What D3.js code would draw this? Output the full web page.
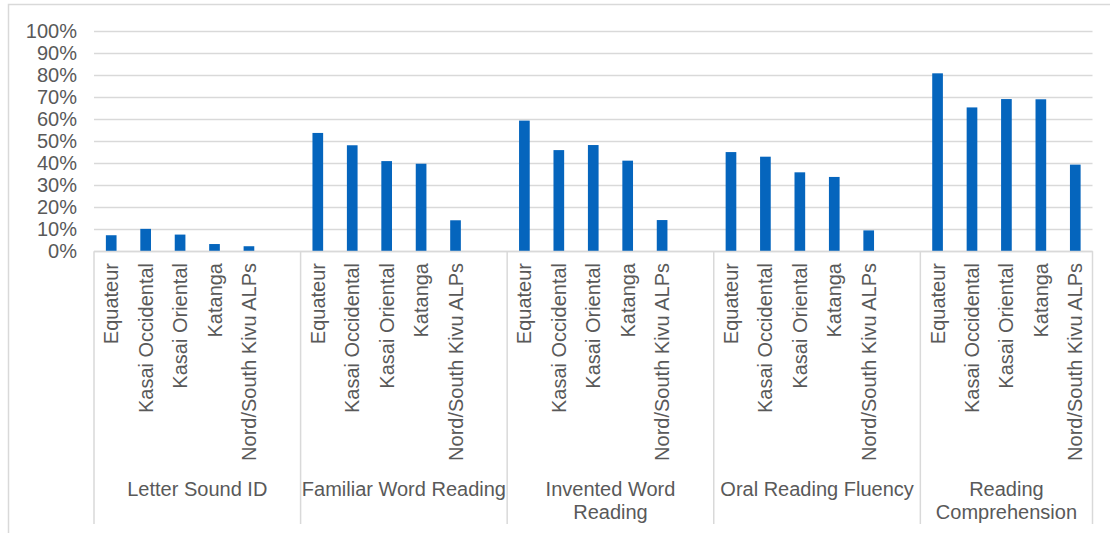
<!DOCTYPE html>
<html>
<head>
<meta charset="utf-8">
<script src="https://cdn.jsdelivr.net/npm/d3@7"></script>
<style>
  html, body { margin: 0; padding: 0; background: #fff; }
  svg { display: block; font-family: Arial, "Liberation Sans", sans-serif; }
</style>
</head>
<body>
<svg id="chart" width="1110" height="533"></svg>
<script>
// Assessment subtasks (outer category level), drawn with explicit line breaks
const subtasks = ["Letter Sound ID", "Familiar Word Reading", "Invented Word Reading", "Oral Reading Fluency", "Reading Comprehension"];
const subtaskLines = [["Letter Sound ID"], ["Familiar Word Reading"], ["Invented Word", "Reading"], ["Oral Reading Fluency"], ["Reading", "Comprehension"]];

// Regions (inner category level)
const regions = ["Equateur", "Kasai Occidental", "Kasai Oriental", "Katanga", "Nord/South Kivu ALPs"];

// Percentages per subtask, in region order
const letterSoundID        = [7.3, 10.2, 7.6, 3.3, 2.3];
const familiarWordReading  = [53.8, 48.2, 41.0, 39.8, 14.1];
const inventedWordReading  = [59.4, 46.0, 48.3, 41.2, 14.2];
const oralReadingFluency   = [45.1, 43.0, 35.9, 33.8, 9.5];
const readingComprehension = [80.9, 65.4, 69.2, 69.1, 39.4];
const seriesBySubtask = [letterSoundID, familiarWordReading, inventedWordReading, oralReadingFluency, readingComprehension];

// Y axis ticks (percent)
const yTicks = [0, 10, 20, 30, 40, 50, 60, 70, 80, 90, 100];

const svg = d3.select("#chart");
const plot = { left: 94, right: 1092.5, top: 31.3, bottom: 251.3 };
const textColor = "#595959";
const lineColor = "#d9d9d9";
const barColor = "#0565bd";
const fontSize = 20;

// Slots: five regions per subtask, with an empty slot separating subtasks
const slots = [];
subtasks.forEach((s, gi) => {
  regions.forEach((r, ri) => slots.push({ id: gi + "|" + ri, group: gi, region: r, value: seriesBySubtask[gi][ri] }));
  if (gi < subtasks.length - 1) slots.push({ id: gi + "|gap", group: gi, region: null, value: null });
});

const x = d3.scaleBand()
  .domain(slots.map(d => d.id))
  .range([plot.left, plot.right])
  .paddingInner(0.69)
  .paddingOuter(0.345);

const y = d3.scaleLinear().domain([0, 100]).range([plot.bottom, plot.top]);

const slotStart = id => x(id) - x.step() * x.paddingInner() / 2;

// Chart frame (top and left edges visible in the window)
svg.append("rect")
  .attr("x", 8.5).attr("y", 4.5)
  .attr("width", 1130).attr("height", 560)
  .attr("fill", "none").attr("stroke", lineColor).attr("stroke-width", 1.5);

// Horizontal gridlines
svg.append("g").selectAll("line")
  .data(yTicks)
  .join("line")
  .attr("x1", plot.left).attr("x2", plot.right)
  .attr("y1", d => Math.round(y(d)) + 0.5).attr("y2", d => Math.round(y(d)) + 0.5)
  .attr("stroke", lineColor).attr("stroke-width", 1.5);

// Y axis labels
const yAxis = d3.axisLeft(y).tickValues(yTicks).tickFormat(d => d + "%").tickSize(0).tickPadding(0);
svg.append("g")
  .attr("transform", `translate(77,0)`)
  .call(yAxis)
  .call(g => g.select(".domain").remove())
  .call(g => g.selectAll("text")
    .attr("fill", textColor)
    .style("font-size", fontSize + "px")
    .style("font-family", "Arial, 'Liberation Sans', sans-serif"));

// Bars
svg.append("g").selectAll("rect")
  .data(slots.filter(d => d.value !== null))
  .join("rect")
  .attr("x", d => x(d.id))
  .attr("width", x.bandwidth())
  .attr("y", d => y(d.value))
  .attr("height", d => y(0) - y(d.value))
  .attr("fill", barColor);

// Inner category labels (rotated regions)
svg.append("g").selectAll("text")
  .data(slots.filter(d => d.region !== null))
  .join("text")
  .attr("transform", d => `translate(${x(d.id) + x.bandwidth() / 2},263) rotate(-90)`)
  .attr("text-anchor", "end")
  .attr("dy", "0.35em")
  .attr("fill", textColor)
  .style("font-size", fontSize + "px")
  .text(d => d.region);

// Group boundaries for the outer level
const groupBounds = subtasks.map((s, gi) => {
  const ids = slots.filter(d => d.group === gi).map(d => d.id);
  const start = slotStart(ids[0]);
  const end = slotStart(ids[ids.length - 1]) + x.step();
  return { gi, start, end };
});

// Category axis line and separators between subtasks
svg.append("line")
  .attr("x1", plot.left).attr("x2", plot.right)
  .attr("y1", Math.round(y(0)) + 0.5).attr("y2", Math.round(y(0)) + 0.5)
  .attr("stroke", lineColor).attr("stroke-width", 1.5);

const sepX = [groupBounds[0].start].concat(groupBounds.map(b => b.end));
svg.append("g").selectAll("line")
  .data(sepX)
  .join("line")
  .attr("x1", d => d).attr("x2", d => d)
  .attr("y1", y(0)).attr("y2", 524)
  .attr("stroke", lineColor).attr("stroke-width", 1.5);

// Outer category labels (subtasks)
const outer = svg.append("g").selectAll("text")
  .data(groupBounds)
  .join("text")
  .attr("text-anchor", "middle")
  .attr("fill", textColor)
  .style("font-size", fontSize + "px");
outer.each(function (b) {
  const t = d3.select(this);
  subtaskLines[b.gi].forEach((line, li) => {
    t.append("tspan")
      .attr("x", (b.start + b.end) / 2)
      .attr("y", 496 + li * 23)
      .text(line);
  });
});
</script>
</body>
</html>
